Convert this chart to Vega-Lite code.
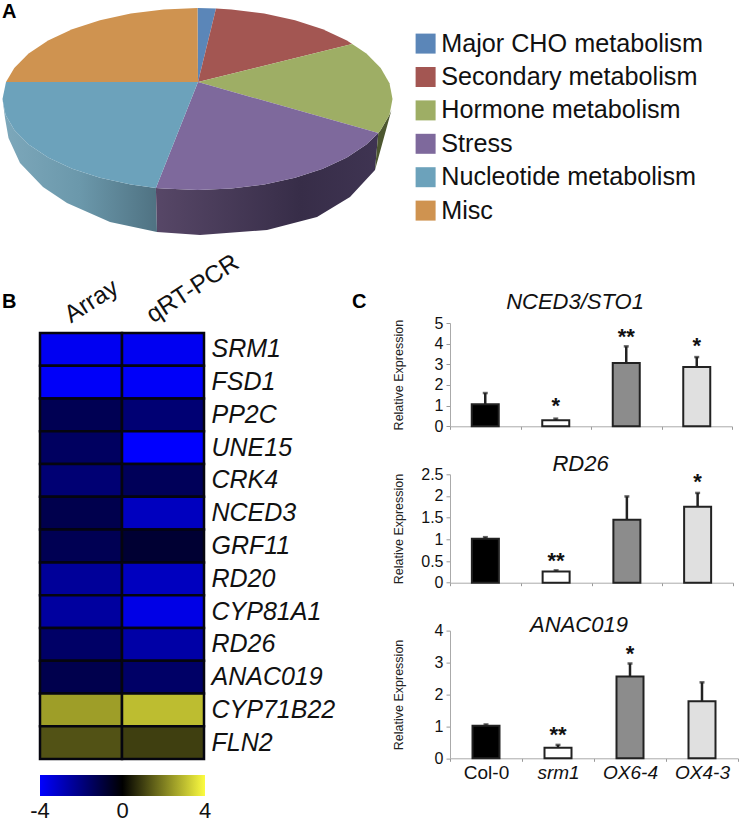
{"$schema":"https://vega.github.io/schema/vega-lite/v6.json","padding":0,"background":"white","bounds":"flush","spacing":0,
"config":{"font":"Liberation Sans","view":{"stroke":null},"axis":{"grid":false},"concat":{"spacing":0}},
"resolve":{"scale":{"fill":"independent","color":"independent","stroke":"independent"}},
"datasets":{
"outline":[
{"slice":"Major CHO metabolism","part":"top","i":0,"px":198,"py":82},{"slice":"Major CHO metabolism","part":"top","i":1,"px":197.5,"py":8},{"slice":"Major CHO metabolism","part":"top","i":2,"px":216,"py":8.4},
{"slice":"Secondary metabolism","part":"top","i":0,"px":198,"py":82},{"slice":"Secondary metabolism","part":"top","i":1,"px":216,"py":8.4},{"slice":"Secondary metabolism","part":"top","i":2,"px":231.4,"py":9.4},{"slice":"Secondary metabolism","part":"top","i":3,"px":264.2,"py":13.5},{"slice":"Secondary metabolism","part":"top","i":4,"px":295,"py":20.2},{"slice":"Secondary metabolism","part":"top","i":5,"px":322.8,"py":29.3},{"slice":"Secondary metabolism","part":"top","i":6,"px":346.9,"py":40.5},{"slice":"Secondary metabolism","part":"top","i":7,"px":352.2,"py":44},
{"slice":"Hormone metabolism","part":"top","i":0,"px":198,"py":82},{"slice":"Hormone metabolism","part":"top","i":1,"px":352.2,"py":44},{"slice":"Hormone metabolism","part":"top","i":2,"px":366.4,"py":53.5},{"slice":"Hormone metabolism","part":"top","i":3,"px":380.7,"py":67.9},{"slice":"Hormone metabolism","part":"top","i":4,"px":389.5,"py":83.2},{"slice":"Hormone metabolism","part":"top","i":5,"px":392.5,"py":99},{"slice":"Hormone metabolism","part":"top","i":6,"px":389.5,"py":114.8},{"slice":"Hormone metabolism","part":"top","i":7,"px":380.7,"py":130.1},{"slice":"Hormone metabolism","part":"top","i":8,"px":378.3,"py":133.1},
{"slice":"Stress","part":"top","i":0,"px":198,"py":82},{"slice":"Stress","part":"top","i":1,"px":378.3,"py":133.1},{"slice":"Stress","part":"top","i":2,"px":366.4,"py":144.5},{"slice":"Stress","part":"top","i":3,"px":346.9,"py":157.5},{"slice":"Stress","part":"top","i":4,"px":322.8,"py":168.7},{"slice":"Stress","part":"top","i":5,"px":295,"py":177.8},{"slice":"Stress","part":"top","i":6,"px":264.2,"py":184.5},{"slice":"Stress","part":"top","i":7,"px":231.4,"py":188.6},{"slice":"Stress","part":"top","i":8,"px":197.5,"py":190},{"slice":"Stress","part":"top","i":9,"px":163.6,"py":188.6},{"slice":"Stress","part":"top","i":10,"px":155.9,"py":187.9},
{"slice":"Nucleotide metabolism","part":"top","i":0,"px":198,"py":82},{"slice":"Nucleotide metabolism","part":"top","i":1,"px":155.9,"py":187.9},{"slice":"Nucleotide metabolism","part":"top","i":2,"px":130.8,"py":184.5},{"slice":"Nucleotide metabolism","part":"top","i":3,"px":100,"py":177.8},{"slice":"Nucleotide metabolism","part":"top","i":4,"px":72.2,"py":168.7},{"slice":"Nucleotide metabolism","part":"top","i":5,"px":48.1,"py":157.5},{"slice":"Nucleotide metabolism","part":"top","i":6,"px":28.6,"py":144.5},{"slice":"Nucleotide metabolism","part":"top","i":7,"px":14.3,"py":130.1},{"slice":"Nucleotide metabolism","part":"top","i":8,"px":5.5,"py":114.8},{"slice":"Nucleotide metabolism","part":"top","i":9,"px":2.5,"py":99},{"slice":"Nucleotide metabolism","part":"top","i":10,"px":6,"py":82},
{"slice":"Misc","part":"top","i":0,"px":198,"py":82},{"slice":"Misc","part":"top","i":1,"px":6,"py":82},{"slice":"Misc","part":"top","i":2,"px":14.3,"py":67.9},{"slice":"Misc","part":"top","i":3,"px":28.6,"py":53.5},{"slice":"Misc","part":"top","i":4,"px":48.1,"py":40.5},{"slice":"Misc","part":"top","i":5,"px":72.2,"py":29.3},{"slice":"Misc","part":"top","i":6,"px":100,"py":20.2},{"slice":"Misc","part":"top","i":7,"px":130.8,"py":13.5},{"slice":"Misc","part":"top","i":8,"px":163.6,"py":9.4},{"slice":"Misc","part":"top","i":9,"px":197.5,"py":8},
{"slice":"Nucleotide metabolism","part":"side","i":0,"px":2.5,"py":99},{"slice":"Nucleotide metabolism","part":"side","i":1,"px":5.5,"py":114.8},{"slice":"Nucleotide metabolism","part":"side","i":2,"px":14.3,"py":130.1},{"slice":"Nucleotide metabolism","part":"side","i":3,"px":28.6,"py":144.5},{"slice":"Nucleotide metabolism","part":"side","i":4,"px":48.1,"py":157.5},{"slice":"Nucleotide metabolism","part":"side","i":5,"px":72.2,"py":168.7},{"slice":"Nucleotide metabolism","part":"side","i":6,"px":100,"py":177.8},{"slice":"Nucleotide metabolism","part":"side","i":7,"px":130.8,"py":184.5},{"slice":"Nucleotide metabolism","part":"side","i":8,"px":155.9,"py":187.9},{"slice":"Nucleotide metabolism","part":"side","i":9,"px":157,"py":232},{"slice":"Nucleotide metabolism","part":"side","i":10,"px":110,"py":222},{"slice":"Nucleotide metabolism","part":"side","i":11,"px":67,"py":203},{"slice":"Nucleotide metabolism","part":"side","i":12,"px":43,"py":187},{"slice":"Nucleotide metabolism","part":"side","i":13,"px":20,"py":163},{"slice":"Nucleotide metabolism","part":"side","i":14,"px":8.5,"py":138},{"slice":"Nucleotide metabolism","part":"side","i":15,"px":5,"py":118},
{"slice":"Stress","part":"side","i":0,"px":155.9,"py":187.9},{"slice":"Stress","part":"side","i":1,"px":163.6,"py":188.6},{"slice":"Stress","part":"side","i":2,"px":197.5,"py":190},{"slice":"Stress","part":"side","i":3,"px":231.4,"py":188.6},{"slice":"Stress","part":"side","i":4,"px":264.2,"py":184.5},{"slice":"Stress","part":"side","i":5,"px":295,"py":177.8},{"slice":"Stress","part":"side","i":6,"px":322.8,"py":168.7},{"slice":"Stress","part":"side","i":7,"px":346.9,"py":157.5},{"slice":"Stress","part":"side","i":8,"px":366.4,"py":144.5},{"slice":"Stress","part":"side","i":9,"px":378.3,"py":133.1},{"slice":"Stress","part":"side","i":10,"px":375,"py":170},{"slice":"Stress","part":"side","i":11,"px":350,"py":197},{"slice":"Stress","part":"side","i":12,"px":317,"py":217},{"slice":"Stress","part":"side","i":13,"px":267,"py":230},{"slice":"Stress","part":"side","i":14,"px":200,"py":235},{"slice":"Stress","part":"side","i":15,"px":157,"py":232},
{"slice":"Hormone metabolism","part":"side","i":0,"px":378.3,"py":133.1},{"slice":"Hormone metabolism","part":"side","i":1,"px":380.7,"py":130.1},{"slice":"Hormone metabolism","part":"side","i":2,"px":389.5,"py":114.8},{"slice":"Hormone metabolism","part":"side","i":3,"px":391.5,"py":110},{"slice":"Hormone metabolism","part":"side","i":4,"px":375,"py":170}
],
"letters":[{"letter":"A","px":2,"py":18},{"letter":"B","px":2,"py":308},{"letter":"C","px":352,"py":308}],
"heat":[
{"gene":"SRM1","method":"Array","v":-3.8},{"gene":"SRM1","method":"qRT-PCR","v":-3.8},
{"gene":"FSD1","method":"Array","v":-3.9},{"gene":"FSD1","method":"qRT-PCR","v":-3.9},
{"gene":"PP2C","method":"Array","v":-1.3},{"gene":"PP2C","method":"qRT-PCR","v":-1.8},
{"gene":"UNE15","method":"Array","v":-1.5},{"gene":"UNE15","method":"qRT-PCR","v":-4},
{"gene":"CRK4","method":"Array","v":-1.8},{"gene":"CRK4","method":"qRT-PCR","v":-1.4},
{"gene":"NCED3","method":"Array","v":-1.2},{"gene":"NCED3","method":"qRT-PCR","v":-3},
{"gene":"GRF11","method":"Array","v":-1.3},{"gene":"GRF11","method":"qRT-PCR","v":-0.8},
{"gene":"RD20","method":"Array","v":-2.4},{"gene":"RD20","method":"qRT-PCR","v":-3},
{"gene":"CYP81A1","method":"Array","v":-2.5},{"gene":"CYP81A1","method":"qRT-PCR","v":-3.6},
{"gene":"RD26","method":"Array","v":-1.6},{"gene":"RD26","method":"qRT-PCR","v":-2.6},
{"gene":"ANAC019","method":"Array","v":-1.2},{"gene":"ANAC019","method":"qRT-PCR","v":-1.6},
{"gene":"CYP71B22","method":"Array","v":2.5},{"gene":"CYP71B22","method":"qRT-PCR","v":3},
{"gene":"FLN2","method":"Array","v":1.3},{"gene":"FLN2","method":"qRT-PCR","v":1}
],
"bars":[
{"gene":"NCED3/STO1","line":"Col-0","mean":1.07,"upper":1.61},{"gene":"NCED3/STO1","line":"srm1","mean":0.29,"upper":0.37,"star":"*","starY":1.06},{"gene":"NCED3/STO1","line":"OX6-4","mean":3.06,"upper":3.87,"star":"**","starY":4.43},{"gene":"NCED3/STO1","line":"OX4-3","mean":2.87,"upper":3.35,"star":"*","starY":3.97},
{"gene":"RD26","line":"Col-0","mean":1.015,"upper":1.05},{"gene":"RD26","line":"srm1","mean":0.26,"upper":0.285,"star":"**","starY":0.55},{"gene":"RD26","line":"OX6-4","mean":1.45,"upper":1.99},{"gene":"RD26","line":"OX4-3","mean":1.75,"upper":2.07,"star":"*","starY":2.37},
{"gene":"ANAC019","line":"Col-0","mean":1.02,"upper":1.06},{"gene":"ANAC019","line":"srm1","mean":0.33,"upper":0.42,"star":"**","starY":0.78},{"gene":"ANAC019","line":"OX6-4","mean":2.56,"upper":2.97,"star":"*","starY":3.34},{"gene":"ANAC019","line":"OX4-3","mean":1.79,"upper":2.38}
]
},
"vconcat":[
{"width":740,"height":323,
"encoding":{"x":{"field":"px","type":"quantitative","axis":null,"scale":{"domain":[0,740],"nice":false,"zero":false}},"y":{"field":"py","type":"quantitative","axis":null,"scale":{"domain":[323,0],"nice":false,"zero":false}}},
"layer":[
{"data":{"name":"outline"},"transform":[{"filter":"datum.part==='side' && datum.slice==='Nucleotide metabolism'"}],"mark":{"type":"line","strokeWidth":0,"fill":{"gradient":"linear","x1":0,"y1":0,"x2":1,"y2":0,"stops":[{"offset":0,"color":"#7da8bb"},{"offset":0.5,"color":"#6b98ab"},{"offset":1,"color":"#4f7282"}]}},"encoding":{"order":{"field":"i","type":"quantitative"}}},
{"data":{"name":"outline"},"transform":[{"filter":"datum.part==='side' && datum.slice==='Stress'"}],"mark":{"type":"line","strokeWidth":0,"fill":{"gradient":"linear","x1":0,"y1":0,"x2":1,"y2":0,"stops":[{"offset":0,"color":"#574767"},{"offset":0.65,"color":"#372d48"},{"offset":1,"color":"#3f3452"}]}},"encoding":{"order":{"field":"i","type":"quantitative"}}},
{"data":{"name":"outline"},"transform":[{"filter":"datum.part==='side' && datum.slice==='Hormone metabolism'"}],"mark":{"type":"line","strokeWidth":0,"fill":"#4d5730"},"encoding":{"order":{"field":"i","type":"quantitative"}}},
{"data":{"name":"outline"},"transform":[{"filter":"datum.part==='top'"}],"mark":{"type":"line","strokeWidth":0},"encoding":{"order":{"field":"i","type":"quantitative"},"fill":{"field":"slice","type":"nominal","scale":{"domain":["Major CHO metabolism","Secondary metabolism","Hormone metabolism","Stress","Nucleotide metabolism","Misc"],"range":["#5b86b8","#a35652","#9eae65","#7e699c","#6ca2bb","#cf9350"]},"legend":{"orient":"none","legendX":413,"legendY":31,"title":null,"symbolType":"square","symbolSize":400,"symbolStrokeWidth":0,"labelFontSize":25.2,"labelColor":"#111","labelOffset":3,"rowPadding":7.4,"labelLimit":320}}}},
{"data":{"name":"letters"},"mark":{"type":"text","align":"left","baseline":"alphabetic","fontSize":20,"fontWeight":"bold","color":"#000"},"encoding":{"text":{"field":"letter"}}}
]},
{"hconcat":[
{"width":40,"height":1,"data":{"values":[{"a":0}]},"mark":{"type":"point","opacity":0},"encoding":{}},
{"vconcat":[
{"width":164,"height":10,"data":{"values":[{"a":0}]},"mark":{"type":"point","opacity":0},"encoding":{}},
{"width":164,"height":426,"data":{"name":"heat"},"mark":{"type":"rect","stroke":"#05050f","strokeWidth":2.5},
"encoding":{
"x":{"field":"method","type":"nominal","sort":null,"scale":{"paddingInner":0,"paddingOuter":0},"axis":{"orient":"top","title":null,"domain":false,"ticks":false,"labelFontSize":24.5,"labelColor":"#111","labelAlign":"left","labelBaseline":"alphabetic","labelAngle":-33,"labelPadding":10,"labelOffset":-10,"encode":{"labels":{"update":{"angle":{"signal":"datum.value==='Array'?-38:-25"}}}}}},
"y":{"field":"gene","type":"nominal","sort":null,"scale":{"paddingInner":0,"paddingOuter":0},"axis":{"orient":"right","title":null,"domain":false,"ticks":false,"labelFontSize":25,"labelFontStyle":"italic","labelColor":"#111","labelPadding":7}},
"color":{"field":"v","type":"quantitative","scale":{"domain":[-4,0,4],"range":["#0000ff","#000000","#fcfc40"],"interpolate":"rgb"},"legend":{"orient":"none","direction":"horizontal","legendX":0,"legendY":442,"title":null,"gradientLength":165,"gradientThickness":21,"gradientStrokeWidth":0,"values":[-4,0,4],"labelExpr":"''+datum.value","labelFontSize":22,"labelColor":"#111","labelOffset":5,"encode":{"labels":{"update":{"align":{"value":"center"}}}}}}
}}
],"spacing":0,"bounds":"flush","resolve":{"scale":{"color":"independent"}}},
{"width":410,"height":1,"data":{"values":[{"a":0}]},"mark":{"type":"point","opacity":0},"encoding":{}},
{"vconcat":[
{"width":282,"height":103.3,"title":{"text":"NCED3/STO1","fontStyle":"italic","fontWeight":"normal","fontSize":22,"dx":-16,"offset":1,"color":"#111"},"data":{"name":"bars"},"transform":[{"filter":"datum.gene==='NCED3/STO1'"}],
"encoding":{"x":{"field":"line","type":"nominal","sort":["Col-0","srm1","OX6-4","OX4-3"],"axis":{"title":null,"labels":false,"tickBand":"extent","domainColor":"#aaa","tickColor":"#999","tickSize":3}}},
"layer":[
{"mark":{"type":"rule","color":"#222","strokeWidth":2.5},"encoding":{"y":{"field":"mean","type":"quantitative","scale":{"domain":[0,5],"nice":false},"axis":{"values":[0,1,2,3,4,5],"labelOverlap":false,"title":"Relative Expression","titleFontSize":12.5,"titleFontWeight":"normal","titleColor":"#222","titleX":-45,"labelFontSize":16,"labelColor":"#111","labelPadding":3,"domainColor":"#aaa","tickColor":"#999","tickSize":4,"format":"~g"}},"y2":{"field":"upper"}}},
{"mark":{"type":"tick","color":"#222","size":5,"thickness":2.5},"encoding":{"y":{"field":"upper","type":"quantitative","axis":{"values":[0,1,2,3,4,5],"labelOverlap":false,"title":"Relative Expression","titleFontSize":12.5,"titleFontWeight":"normal","titleColor":"#222","titleX":-45,"labelFontSize":16,"labelColor":"#111","labelPadding":3,"domainColor":"#aaa","tickColor":"#999","tickSize":4,"format":"~g"}}}},
{"mark":{"type":"bar","width":27,"stroke":"#222","strokeWidth":2},"encoding":{"y":{"field":"mean","type":"quantitative","axis":{"values":[0,1,2,3,4,5],"labelOverlap":false,"title":"Relative Expression","titleFontSize":12.5,"titleFontWeight":"normal","titleColor":"#222","titleX":-45,"labelFontSize":16,"labelColor":"#111","labelPadding":3,"domainColor":"#aaa","tickColor":"#999","tickSize":4,"format":"~g"}},"fill":{"field":"line","type":"nominal","legend":null,"scale":{"domain":["Col-0","srm1","OX6-4","OX4-3"],"range":["#000000","#ffffff","#8c8c8c","#e0e0e0"]}}}},
{"transform":[{"filter":"datum.star"}],"mark":{"type":"text","fontSize":22,"fontWeight":"bold","baseline":"alphabetic","dy":9,"color":"#111"},"encoding":{"y":{"field":"starY","type":"quantitative","axis":{"values":[0,1,2,3,4,5],"labelOverlap":false,"title":"Relative Expression","titleFontSize":12.5,"titleFontWeight":"normal","titleColor":"#222","titleX":-45,"labelFontSize":16,"labelColor":"#111","labelPadding":3,"domainColor":"#aaa","tickColor":"#999","tickSize":4,"format":"~g"}},"text":{"field":"star"}}}
]},
{"width":283,"height":108.4,"title":{"text":"RD26","fontStyle":"italic","fontWeight":"normal","fontSize":22,"dx":-11,"offset":-10,"color":"#111"},"data":{"name":"bars"},"transform":[{"filter":"datum.gene==='RD26'"}],
"encoding":{"x":{"field":"line","type":"nominal","sort":["Col-0","srm1","OX6-4","OX4-3"],"axis":{"title":null,"labels":false,"tickBand":"extent","domainColor":"#aaa","tickColor":"#999","tickSize":3}}},
"layer":[
{"mark":{"type":"rule","color":"#222","strokeWidth":2.5},"encoding":{"y":{"field":"mean","type":"quantitative","scale":{"domain":[0,2.5],"nice":false},"axis":{"values":[0,0.5,1,1.5,2,2.5],"labelOverlap":false,"title":"Relative Expression","titleFontSize":12.5,"titleFontWeight":"normal","titleColor":"#222","titleX":-45,"labelFontSize":16,"labelColor":"#111","labelPadding":3,"domainColor":"#aaa","tickColor":"#999","tickSize":4,"format":"~g"}},"y2":{"field":"upper"}}},
{"mark":{"type":"tick","color":"#222","size":5,"thickness":2.5},"encoding":{"y":{"field":"upper","type":"quantitative","axis":{"values":[0,0.5,1,1.5,2,2.5],"labelOverlap":false,"title":"Relative Expression","titleFontSize":12.5,"titleFontWeight":"normal","titleColor":"#222","titleX":-45,"labelFontSize":16,"labelColor":"#111","labelPadding":3,"domainColor":"#aaa","tickColor":"#999","tickSize":4,"format":"~g"}}}},
{"mark":{"type":"bar","width":27,"stroke":"#222","strokeWidth":2},"encoding":{"y":{"field":"mean","type":"quantitative","axis":{"values":[0,0.5,1,1.5,2,2.5],"labelOverlap":false,"title":"Relative Expression","titleFontSize":12.5,"titleFontWeight":"normal","titleColor":"#222","titleX":-45,"labelFontSize":16,"labelColor":"#111","labelPadding":3,"domainColor":"#aaa","tickColor":"#999","tickSize":4,"format":"~g"}},"fill":{"field":"line","type":"nominal","legend":null,"scale":{"domain":["Col-0","srm1","OX6-4","OX4-3"],"range":["#000000","#ffffff","#8c8c8c","#e0e0e0"]}}}},
{"transform":[{"filter":"datum.star"}],"mark":{"type":"text","fontSize":22,"fontWeight":"bold","baseline":"alphabetic","dy":9,"color":"#111"},"encoding":{"y":{"field":"starY","type":"quantitative","axis":{"values":[0,0.5,1,1.5,2,2.5],"labelOverlap":false,"title":"Relative Expression","titleFontSize":12.5,"titleFontWeight":"normal","titleColor":"#222","titleX":-45,"labelFontSize":16,"labelColor":"#111","labelPadding":3,"domainColor":"#aaa","tickColor":"#999","tickSize":4,"format":"~g"}},"text":{"field":"star"}}}
]},
{"width":288,"height":127.7,"title":{"text":"ANAC019","fontStyle":"italic","fontWeight":"normal","fontSize":22,"dx":-15,"offset":-14,"color":"#111"},"data":{"name":"bars"},"transform":[{"filter":"datum.gene==='ANAC019'"}],
"encoding":{"x":{"field":"line","type":"nominal","sort":["Col-0","srm1","OX6-4","OX4-3"],"axis":{"title":null,"labelAngle":0,"labelFontSize":19,"labelColor":"#111","labelPadding":2,"labelFontStyle":{"condition":{"test":"datum.value!=='Col-0'","value":"italic"},"value":"normal"},"tickBand":"extent","domainColor":"#aaa","tickColor":"#999","tickSize":3}}},
"layer":[
{"mark":{"type":"rule","color":"#222","strokeWidth":2.5},"encoding":{"y":{"field":"mean","type":"quantitative","scale":{"domain":[0,4],"nice":false},"axis":{"values":[0,1,2,3,4],"labelOverlap":false,"title":"Relative Expression","titleFontSize":12.5,"titleFontWeight":"normal","titleColor":"#222","titleX":-45,"labelFontSize":16,"labelColor":"#111","labelPadding":3,"domainColor":"#aaa","tickColor":"#999","tickSize":4,"format":"~g"}},"y2":{"field":"upper"}}},
{"mark":{"type":"tick","color":"#222","size":5,"thickness":2.5},"encoding":{"y":{"field":"upper","type":"quantitative","axis":{"values":[0,1,2,3,4],"labelOverlap":false,"title":"Relative Expression","titleFontSize":12.5,"titleFontWeight":"normal","titleColor":"#222","titleX":-45,"labelFontSize":16,"labelColor":"#111","labelPadding":3,"domainColor":"#aaa","tickColor":"#999","tickSize":4,"format":"~g"}}}},
{"mark":{"type":"bar","width":27,"stroke":"#222","strokeWidth":2},"encoding":{"y":{"field":"mean","type":"quantitative","axis":{"values":[0,1,2,3,4],"labelOverlap":false,"title":"Relative Expression","titleFontSize":12.5,"titleFontWeight":"normal","titleColor":"#222","titleX":-45,"labelFontSize":16,"labelColor":"#111","labelPadding":3,"domainColor":"#aaa","tickColor":"#999","tickSize":4,"format":"~g"}},"fill":{"field":"line","type":"nominal","legend":null,"scale":{"domain":["Col-0","srm1","OX6-4","OX4-3"],"range":["#000000","#ffffff","#8c8c8c","#e0e0e0"]}}}},
{"transform":[{"filter":"datum.star"}],"mark":{"type":"text","fontSize":22,"fontWeight":"bold","baseline":"alphabetic","dy":9,"color":"#111"},"encoding":{"y":{"field":"starY","type":"quantitative","axis":{"values":[0,1,2,3,4],"labelOverlap":false,"title":"Relative Expression","titleFontSize":12.5,"titleFontWeight":"normal","titleColor":"#222","titleX":-45,"labelFontSize":16,"labelColor":"#111","labelPadding":3,"domainColor":"#aaa","tickColor":"#999","tickSize":4,"format":"~g"}},"text":{"field":"star"}}}
]}
],"spacing":47.3,"bounds":"flush","resolve":{"scale":{"fill":"independent"}}}
],"spacing":0,"bounds":"flush","resolve":{"scale":{"fill":"independent","color":"independent"}}}
]}
